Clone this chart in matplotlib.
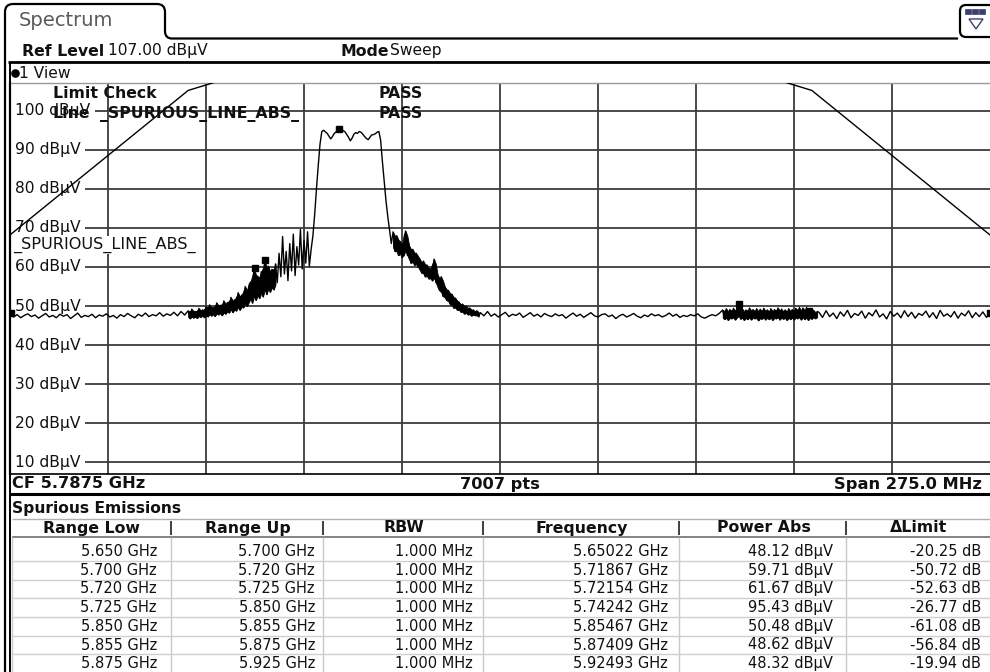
import numpy as np
import matplotlib
matplotlib.use("Agg")
import matplotlib.pyplot as plt
from matplotlib.path import Path
from matplotlib.patches import PathPatch, Circle, FancyBboxPatch, Rectangle, Polygon

plt.rcParams['font.family'] = ['DejaVu Sans']

# ---------------- data ----------------
ref_level_dbuv = 107.0
center_ghz = 5.7875
span_mhz = 275.0
n_points = 7007
grid_levels = [100, 90, 80, 70, 60, 50, 40, 30, 20, 10]
limit_name = "_SPURIOUS_LINE_ABS_"

limit_freq_mhz = [5650, 5700, 5720, 5725, 5850, 5855, 5875, 5925]
limit_dbuv = [68.2, 105.2, 110.8, 122.2, 122.2, 110.8, 105.2, 68.2]

# trace pieces (level in dBuV), each with its start frequency (MHz) and sweep step (MHz)
floor_left = [48.1, 47.2, 47.8, 47.0, 47.6, 48.0, 47.3, 47.7, 46.9, 47.5,
              48.1, 47.2, 47.6, 47.0, 47.9, 47.4, 47.8, 46.8, 47.5, 48.2,
              47.1, 47.6, 47.3, 47.9, 47.0, 47.7, 47.4, 48.0, 47.2, 47.6,
              46.9, 47.8, 47.3, 48.1, 47.5, 47.0, 47.9, 47.4, 48.2, 47.3,
              47.8, 47.5, 48.3, 47.4, 48.0, 47.6, 48.4, 47.5, 48.6, 47.7]
shoulder_left = [48.8, 46.8, 49.2, 47.0, 48.6, 46.9, 49.4, 47.2, 49.0, 47.1,
                 49.8, 47.3, 50.3, 47.5, 49.6, 47.4, 50.8, 47.8, 50.2, 47.6,
                 51.3, 48.0, 50.9, 48.3, 52.2, 48.4, 51.6, 48.8, 53.4, 49.0,
                 52.8, 49.6, 55.0, 50.0, 54.6, 56.2, 50.8, 59.7, 51.5, 57.6,
                 52.0, 58.8, 52.4, 61.7, 53.0, 60.2, 53.6, 59.4, 54.2, 60.8]
skirt_left = [56.0, 63.5, 57.5, 67.8, 58.2, 64.0, 56.5, 66.0, 59.0, 68.4,
              57.8, 65.2, 60.5, 69.6, 59.5, 66.8, 61.0, 69.0, 60.2, 64.5]
edge_up = [68.0, 73.5, 80.0, 86.0, 91.5, 94.7]
channel_top = [95.0, 94.6, 94.2, 93.5, 92.8, 93.4, 94.2, 94.6, 95.0, 95.4,
               95.2, 94.9, 94.6, 93.9, 93.2, 92.3, 93.0, 94.0, 94.4, 94.2,
               94.7, 94.5, 94.0, 93.4, 92.9, 92.6, 93.2, 93.8, 93.9, 94.1,
               94.5, 94.7, 92.5]
edge_down = [87.0, 82.0, 77.0, 73.0, 69.5, 66.0]
shoulder_right = [69.0, 64.0, 68.0, 63.0, 66.5, 62.5, 65.0, 69.2, 63.0, 65.5,
                  61.0, 64.5, 60.5, 63.5, 60.0, 62.0, 58.5, 61.5, 57.5, 60.5,
                  57.0, 59.5, 56.5, 62.0, 56.0, 58.0, 54.0, 57.5, 52.5, 55.0,
                  51.5, 54.0, 50.5, 53.0, 49.5, 52.0, 49.0, 51.0, 48.5, 50.5,
                  48.0, 50.0, 47.8, 49.5, 47.5, 49.0, 47.6, 48.8, 47.3]
floor_mid = [48.3, 47.5, 48.6, 47.4, 48.0, 47.2, 47.8, 48.4, 47.3, 47.9,
             47.6, 48.2, 47.1, 47.7, 48.3, 47.4, 47.9, 47.2, 48.1, 47.6,
             47.3, 48.0, 47.5, 47.8, 46.9, 47.6, 48.2, 47.4, 47.9, 47.1,
             47.7, 48.3, 47.5, 47.2, 47.8, 48.0, 47.3, 47.7, 46.8, 47.5,
             47.9, 47.2, 47.6, 48.1, 47.4, 47.0, 47.7, 47.3, 48.0, 47.5,
             47.8, 47.2, 47.6, 48.2, 47.4, 47.9, 47.1, 47.6, 47.3, 47.8,
             47.5, 48.0, 47.2, 46.9, 47.4, 47.8, 47.5, 48.1]
band_right = [49.0, 46.6, 49.3, 46.4, 49.1, 46.8, 49.4, 46.5, 49.2, 50.5,
              46.7, 49.3, 46.4, 49.0, 46.6, 49.5, 46.5, 49.1, 46.8, 49.3,
              46.3, 49.2, 46.7, 49.4, 46.5, 49.0, 46.6, 49.3, 46.4, 49.1,
              46.8, 49.5, 46.5, 49.2, 46.7, 49.0, 46.4, 49.3, 46.6, 49.1,
              46.5, 49.4, 46.8, 49.6, 46.5, 49.5, 46.6, 49.6, 46.4, 49.2,
              46.7, 48.9, 46.8, 48.6]
floor_right = [48.4, 47.1, 48.8, 47.3, 48.2, 46.8, 48.5, 47.4, 48.9, 47.0,
               48.1, 47.6, 48.7, 46.9, 48.3, 47.5, 49.0, 47.2, 48.0, 46.7,
               48.6, 47.4, 48.2, 47.0, 48.8, 47.3, 48.4, 46.9, 48.1, 47.6,
               48.7, 47.1, 48.3, 46.8, 48.9, 47.4, 48.0, 47.2, 48.6, 46.9,
               48.2, 47.5, 48.8, 47.0, 48.3, 47.3, 48.5, 47.1, 48.3]
# (start MHz, step MHz, values, densely swept)
trace_pieces = [(5650.0, 1.0, floor_left, False), (5700.0, 0.5, shoulder_left, True),
                (5725.0, 0.5, skirt_left, False), (5735.0, 0.5, edge_up, False),
                (5738.0, 0.5, channel_top, False), (5754.5, 0.5, edge_down, False),
                (5757.5, 0.5, shoulder_right, True), (5782.0, 1.0, floor_mid, False),
                (5850.0, 0.5, band_right, True), (5877.0, 1.0, floor_right, False)]

# spurious emissions table
range_low_ghz = [5.650, 5.700, 5.720, 5.725, 5.850, 5.855, 5.875]
range_up_ghz = [5.700, 5.720, 5.725, 5.850, 5.855, 5.875, 5.925]
rbw_mhz = [1.0, 1.0, 1.0, 1.0, 1.0, 1.0, 1.0]
peak_freq_ghz = [5.65022, 5.71867, 5.72154, 5.74242, 5.85467, 5.87409, 5.92493]
peak_power_dbuv = [48.12, 59.71, 61.67, 95.43, 50.48, 48.62, 48.32]
delta_limit_db = [-20.25, -50.72, -52.63, -26.77, -61.08, -56.84, -19.94]
table_headers = ["Range Low", "Range Up", "RBW", "Frequency", "Power Abs", "ΔLimit"]

# ---------------- figure ----------------
W, H = 990, 672
fig = plt.figure(figsize=(W / 100, H / 100), dpi=100)
fig.patch.set_facecolor('white')

FS = 10.5      # table values
FSL = 11.2     # plot labels
FSB = 11.3     # bold texts
plot_top, plot_bot, plot_left = 83.4, 474.0, 10.0

# plot axes
ax = fig.add_axes([plot_left / W, 1 - plot_bot / H, (W - plot_left) / W, (plot_bot - plot_top) / H])
ax.set_zorder(1)
f0 = center_ghz * 1000 - span_mhz / 2
f1 = center_ghz * 1000 + span_mhz / 2
ax.set_xlim(f0, f1)
ax.set_ylim(ref_level_dbuv - 100, ref_level_dbuv)
ax.set_xticks(np.linspace(f0, f1, 11)[1:-1])
ax.set_yticks(grid_levels)
ax.tick_params(length=0, labelleft=False, labelbottom=False)
ax.set_axisbelow(True)
ax.grid(True, color='#3c3c3c', lw=1.3)
ax.spines['top'].set_color('#9a9a9a'); ax.spines['top'].set_linewidth(1.0)
ax.spines['left'].set_linewidth(1.6)
ax.spines['bottom'].set_linewidth(1.2)
ax.spines['right'].set_visible(False)

ytr = ax.get_yaxis_transform()
for lv in grid_levels:
    ax.text(5 / 980, lv, f"{lv} dBµV", transform=ytr, ha='left', va='center', fontsize=FSL,
            color='#111111', zorder=2.5,
            bbox=dict(boxstyle='square,pad=0.28', fc='white', ec='none'))
ax.text(3 / 980, 1 - (245 - plot_top) / (plot_bot - plot_top), limit_name, transform=ax.transAxes,
        ha='left', va='center', fontsize=11.6, color='#111111', zorder=2.5,
        bbox=dict(boxstyle='square,pad=0.05', fc='white', ec='none'))

# trace
tf, tv = [], []
for start, step, vals, dense in trace_pieces:
    f = start + step * np.arange(len(vals))
    v = np.asarray(vals, dtype=float)
    tf.append(f); tv.append(v)
    if dense:
        prev = np.r_[v[0], v[:-1]]
        nxt = np.r_[v[1:], v[-1]]
        mn = np.minimum(np.minimum(prev, v), nxt)
        mx = np.maximum(np.maximum(prev, v), nxt)
        lo = 0.8 * mn + 0.2 * v
        hi = 0.8 * mx + 0.2 * v
        ax.fill_between(f, lo, hi, color='black', lw=0.6, zorder=3)
tf = np.concatenate(tf); tv = np.concatenate(tv)
ax.plot(tf, tv, color='black', lw=1.0, zorder=3)
# limit line
ax.plot(limit_freq_mhz, limit_dbuv, color='black', lw=1.0, zorder=3)
# peak markers
ax.plot(np.array(peak_freq_ghz) * 1000, peak_power_dbuv, 's', color='black', ms=4.2, zorder=4)

# overlay axes in pixel coordinates
ov = fig.add_axes([0, 0, 1, 1])
ov.set_zorder(5)
ov.set_xlim(0, W); ov.set_ylim(H, 0)
ov.axis('off')
ov.patch.set_alpha(0)

def line(x0, y0, x1, y1, **kw):
    kw.setdefault('color', 'black')
    ov.plot([x0, x1], [y0, y1], solid_capstyle='butt', **kw)

def txt(x, y, s, **kw):
    kw.setdefault('fontsize', FS)
    kw.setdefault('va', 'center')
    kw.setdefault('color', '#111111')
    ov.text(x, y, s, **kw)

# tab "Spectrum"
verts = [(5, 672), (5, 12), (5, 4), (13, 4), (157, 4), (165, 4), (165, 12), (165, 31),
         (165, 38.5), (172, 38.5), (958, 38.5)]
codes = [Path.MOVETO, Path.LINETO, Path.CURVE3, Path.CURVE3, Path.LINETO, Path.CURVE3, Path.CURVE3,
         Path.LINETO, Path.CURVE3, Path.CURVE3, Path.LINETO]
ov.add_patch(PathPatch(Path(verts, codes), fc='none', ec='black', lw=1.6))
txt(19, 21, "Spectrum", fontsize=14, color='#5a5a5a')

# icon top-right
ov.add_patch(FancyBboxPatch((960, 5), 40, 32, boxstyle='round,pad=0,rounding_size=6',
                            fc='white', ec='black', lw=1.6))
for i in range(3):
    ov.add_patch(Rectangle((965 + i * 7, 9), 6, 5, fc='#3a3f6e', ec='#3a3f6e', lw=0.5))
ov.add_patch(Polygon([(969, 19), (983, 19), (976, 29)], closed=True, fc='white', ec='#3a3f6e', lw=1.0))

# ref level / mode row
txt(22, 51, "Ref Level", fontweight='bold', fontsize=FSB)
txt(108, 51, f"{ref_level_dbuv:.2f} dBµV", fontsize=FSL)
txt(340, 51, "Mode", fontweight='bold', fontsize=FSB)
txt(390, 51, "Sweep", fontsize=FSL)
line(8, 62, 990, 62, lw=2.0)
line(9.5, 62, 9.5, 672, lw=1.4)

# view row
ov.add_patch(Circle((15.5, 73.5), 3.6, fc='black', ec='black'))
txt(19, 73.5, "1 View", fontsize=FSL)

# limit check texts
txt(53, 94, "Limit Check", fontweight='bold', fontsize=FSB)
txt(53, 114, "Line", fontweight='bold', fontsize=FSB)
txt(100, 114, limit_name, fontweight='bold', fontsize=FSB)
txt(401, 94, "PASS", fontweight='bold', ha='center', fontsize=FSB)
txt(401, 114, "PASS", fontweight='bold', ha='center', fontsize=FSB)

# CF bar
txt(12, 484, f"CF {center_ghz:.4f} GHz", fontweight='bold', fontsize=11.7)
txt(500, 484, f"{n_points} pts", fontweight='bold', ha='center', fontsize=11.7)
txt(982, 484, f"Span {span_mhz:.1f} MHz", fontweight='bold', ha='right', fontsize=11.7)
line(9.5, 493.5, 990, 493.5, lw=2.2)

# spurious emissions table
txt(12, 508, "Spurious Emissions", fontweight='bold', fontsize=11.2)
col_edges = [10, 171, 323, 483, 679, 846, 990]
col_right = [157, 315, 473, 668, 833, 981]
line(12, 518.5, 990, 518.5, color='#b0b0b0', lw=1.0)
line(12, 537, 990, 537, color='#707070', lw=1.2)
for xe in col_edges[1:-1]:
    line(xe, 521, xe, 535, color='#303030', lw=1.3)
for j, h in enumerate(table_headers):
    txt((col_edges[j] + col_edges[j + 1]) / 2 + 1, 528, h, fontweight='bold', ha='center', fontsize=FSB)

row_h = 18.7
row0 = 551.5
for xe in [12] + col_edges[1:-1]:
    line(xe, 537, xe, 672, color='#c8c8c8', lw=1.0)
for i in range(len(range_low_ghz)):
    yc = row0 + i * row_h
    line(12, yc + row_h / 2, 990, yc + row_h / 2, color='#cfcfcf', lw=1.0)
    vals = [f"{range_low_ghz[i]:.3f} GHz", f"{range_up_ghz[i]:.3f} GHz", f"{rbw_mhz[i]:.3f} MHz",
            f"{peak_freq_ghz[i]:.5f} GHz", f"{peak_power_dbuv[i]:.2f} dBµV",
            f"{delta_limit_db[i]:.2f} dB"]
    for j, v in enumerate(vals):
        txt(col_right[j], yc, v, ha='right')

fig.savefig("out.png", dpi=100, facecolor='white')
